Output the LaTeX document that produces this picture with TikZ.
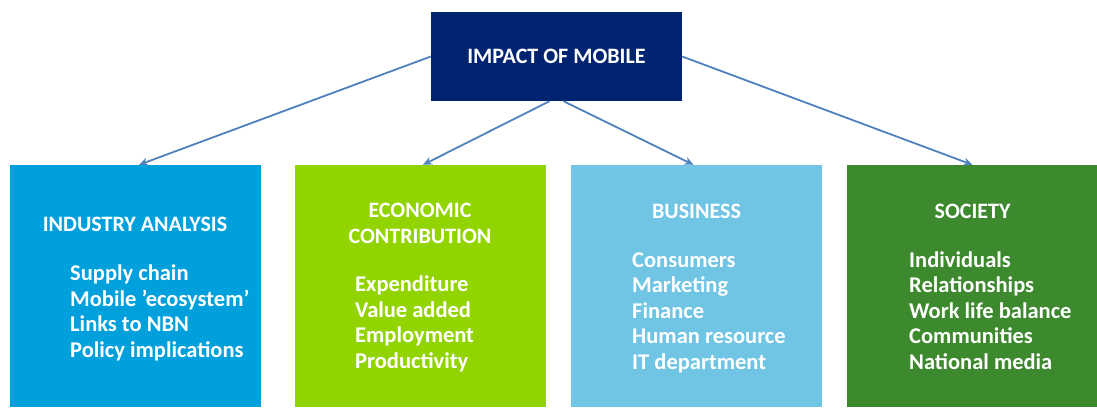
\documentclass[tikz,border=0pt]{standalone}
\usepackage{fontspec}
\setmainfont{Carlito}
\usetikzlibrary{positioning, arrows.meta}
\definecolor{navyblue}{RGB}{0,36,112}
\definecolor{industryblue}{RGB}{0,160,221}
\definecolor{limegreen}{RGB}{146,212,0}
\definecolor{skyblue}{RGB}{112,197,228}
\definecolor{forestgreen}{RGB}{61,137,46}
\definecolor{linkblue}{RGB}{79,129,189}
\tikzset{
  >={Stealth[length=9pt,width=8pt]},
  x=1pt, y=-1pt,
  link/.style={->, draw=linkblue, line width=1.8pt},
  panel/.style={minimum width=251pt, minimum height=242pt, inner sep=0pt},
  head/.style={text=white, font=\bfseries\fontsize{22}{25.5}\selectfont, align=center, anchor=base, inner sep=0pt},
  items/.style={text=white, font=\bfseries\fontsize{22.5}{25.5}\selectfont, align=left, anchor=base west, inner sep=0pt},
}

\begin{document}
\begin{tikzpicture}
      \useasboundingbox (0,0) rectangle (1097,407);

      \node[fill=navyblue, minimum width=251pt, minimum height=89pt, text=white,
            font=\bfseries\fontsize{22}{24}\selectfont] (impact) at (556.5,56.5) {IMPACT OF MOBILE};

      \node[panel, fill=industryblue] (industry) at (135,286) {};
      \node[panel, fill=limegreen]    (economic) at (420,286) {};
      \node[panel, fill=skyblue]      (business) at (696.5,286) {};
      \node[panel, fill=forestgreen]  (society)  at (972.5,286) {};

      % base anchor sits on the last line
      \node[head] (industryhead) at (135,231)   {INDUSTRY ANALYSIS};
      \node[head] (economichead) at (420,243)   {ECONOMIC\\CONTRIBUTION};
      \node[head] (businesshead) at (696.5,218) {BUSINESS};
      \node[head] (societyhead)  at (972.5,218) {SOCIETY};

      \node[items] (industryitems) at (70,357)  {Supply chain\\Mobile ’ecosystem’\\Links to NBN\\Policy implications};
      \node[items] (economicitems) at (355,368) {Expenditure\\Value added\\Employment\\Productivity};
      \node[items] (businessitems) at (632,369) {Consumers\\Marketing\\Finance\\Human resource\\IT department};
      \node[items] (societyitems)  at (909,369) {Individuals\\Relationships\\Work life balance\\Communities\\National media};

      \draw[link] (impact.west) -- ([xshift=4pt]industry.north);
      \draw[link] ([xshift=-7pt]impact.south) -- ([xshift=3pt]economic.north);
      \draw[link] ([xshift=7pt]impact.south) -- ([xshift=-3pt]business.north);
      \draw[link] (impact.east) -- (society.north);
    \end{tikzpicture}
\end{document}
